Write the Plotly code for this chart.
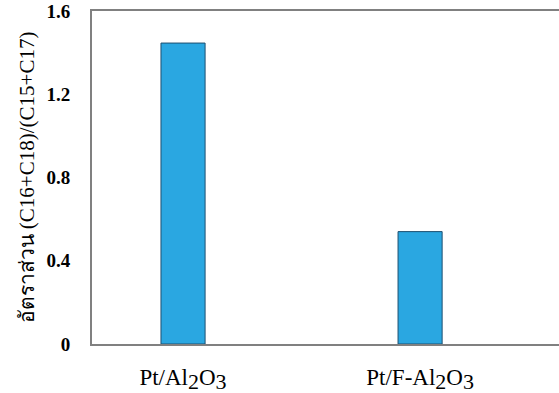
import plotly.graph_objects as go

# Catalyst samples and their odd/even carbon ratio
SUB = "<sub><span style='font-size:22px'>{}</span></sub>"
catalysts = [
    "Pt/Al" + SUB.format("2") + "O" + SUB.format("3"),
    "Pt/F-Al" + SUB.format("2") + "O" + SUB.format("3"),
]
ratios = [1.446, 0.54]

y_tick_values = [0, 0.4, 0.8, 1.2, 1.6]
y_tick_labels = ["<b>0</b>", "<b>0.4</b>", "<b>0.8</b>", "<b>1.2</b>", "<b>1.6</b>"]

fig = go.Figure(
    go.Bar(
        x=catalysts,
        y=ratios,
        width=0.186,
        marker=dict(color="#2aa7e1", line=dict(color="#1d4f70", width=1)),
    )
)

fig.update_layout(
    width=559,
    height=393,
    margin=dict(l=92, r=0, t=11, b=49),
    paper_bgcolor="white",
    plot_bgcolor="white",
    showlegend=False,
    xaxis=dict(
        range=[-0.384, 1.586],
        showline=True,
        linecolor="#808080",
        linewidth=2,
        mirror=True,
        ticks="",
        showgrid=False,
        tickfont=dict(family="Liberation Serif", size=23, color="black"),
        ticklabelstandoff=11,
    ),
    yaxis=dict(
        range=[0, 1.6],
        tickvals=y_tick_values,
        ticktext=y_tick_labels,
        showline=True,
        linecolor="#808080",
        linewidth=2,
        ticks="",
        showgrid=False,
        zeroline=False,
        tickfont=dict(family="Liberation Serif", size=19, color="black"),
        ticklabelstandoff=16,
        title=dict(
            text="อัตราส่วน (C16+C18)/(C15+C17)",
            font=dict(family="Liberation Serif, Noto Sans", size=21, color="black"),
            standoff=6,
        ),
    ),
)

fig.write_html("out.html")
